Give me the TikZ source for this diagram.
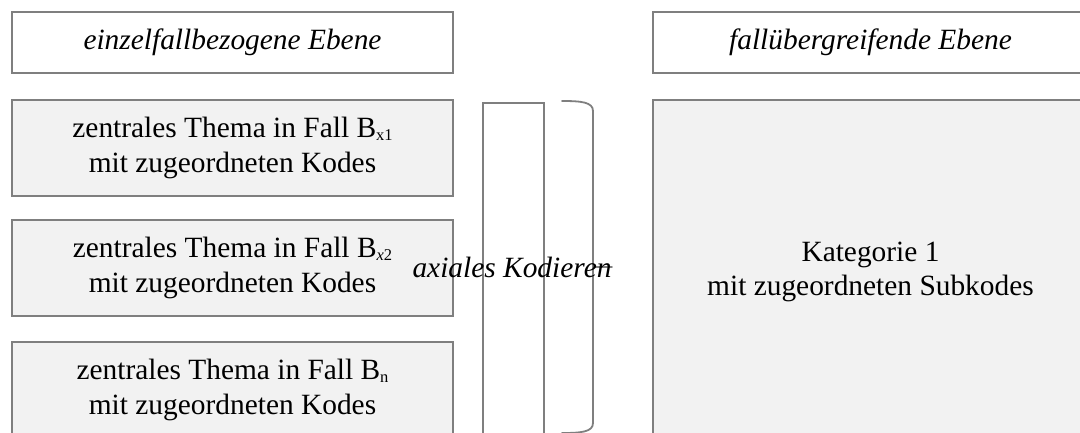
\documentclass[tikz,border=0pt]{standalone}
\usepackage{fontspec}
\setmainfont{Liberation Serif}
\definecolor{linegray}{HTML}{7F7F7F}
\definecolor{boxgray}{HTML}{F2F2F2}
% small lowered index after a case letter
\newcommand\caseidx[1]{\raisebox{-3pt}{\fontsize{16.5}{16.5}\selectfont #1}}
\begin{document}
\begin{tikzpicture}[x=1pt,y=-1pt,
  txt/.style={font=\fontsize{29.4}{34.5}\selectfont},
  frame/.style={txt, draw=linegray, line width=1.8pt, rectangle, inner sep=0pt, align=center},
  head/.style={frame, fill=white, font=\fontsize{29.4}{34.5}\selectfont\itshape, minimum height=61pt},
  topic/.style={frame, fill=boxgray, minimum width=441pt, minimum height=96pt},
  bracket/.style={draw=linegray, line width=1.8pt, line cap=round}
]
\clip (0,0) rectangle (1080,432);

% level headers
\node[head, minimum width=441pt] (hleft) at (232.5,42.5) {einzelfallbezogene Ebene};
\node[head, minimum width=435pt] (hright) at (870.5,42.5) {fallübergreifende Ebene};

% central topics of the single cases
\node[topic] (t1) at (232.5,148) {zentrales Thema in Fall B\caseidx{x1}\\mit zugeordneten Kodes};
\node[topic] (t2) at (232.5,268) {zentrales Thema in Fall B\caseidx{\textit{x}2}\\mit zugeordneten Kodes};
\node[topic] (t3) at (232.5,390) {zentrales Thema in Fall B\caseidx{n}\\mit zugeordneten Kodes};

% collecting column
\node[frame, fill=white, minimum width=61pt, minimum height=342pt] (col) at (513.5,274) {};

% category across cases
\node[frame, fill=boxgray, minimum width=435pt, minimum height=344pt] (cat) at (870.5,272)
  {Kategorie 1\\mit zugeordneten Subkodes};

% right brace
\draw[bracket] (562,101) .. controls (581,101) and (593,102) .. (593,111)
  -- (593,423) .. controls (593,432) and (581,433) .. (562,433);
\coordinate (tip) at (612,267);
\draw[bracket] (593,267) -- (tip);

% label of the coding step
\node[txt, font=\fontsize{29.4}{34.5}\selectfont\itshape, inner sep=0pt] (axial) at (512,267) {axiales Kodieren};
\end{tikzpicture}
\end{document}
